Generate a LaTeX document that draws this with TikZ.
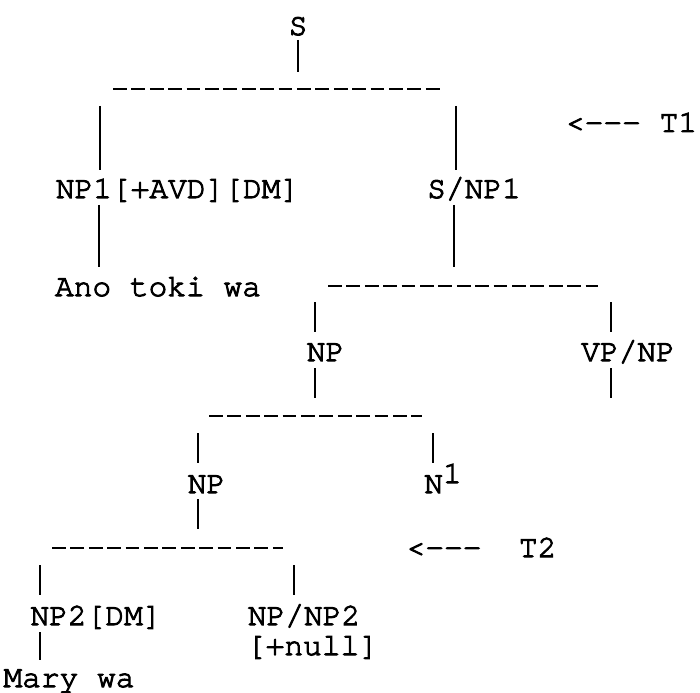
\documentclass[tikz,border=0pt]{standalone}
\usepackage{fontspec}
\newfontfamily\tw{texgyrecursor-regular.otf}[FakeBold=3.2]
\tikzset{
  lbl/.style={font=\tw\fontsize{31.2}{36}\selectfont, inner sep=0pt, anchor=base},
  bar/.style={line width=2.2pt},
  dashrule/.style={line width=2.6pt, dash pattern=on 13.8pt off 4.6pt},
}
\begin{document}
\begin{tikzpicture}[x=1pt,y=-1pt]
\useasboundingbox (0,0) rectangle (700,692);
% labels
\node[lbl] (S) at (298,35) {S};
\node[lbl] (np1) at (177.5,198) {NP1[+AVD][DM]};
\node[lbl] (snp1) at (474,198) {S/NP1};
\node[lbl] (t1) at (631.5,132) {<-{}-{}- T1};
\node[lbl] (ano) at (158,296) {Ano toki wa};
\node[lbl] (npA) at (325.5,361) {NP};
\node[lbl] (vpnp) at (628,361) {VP/NP};
\node[lbl] (npB) at (206.5,493) {NP};
\node[lbl] (n1) at (443,493) {N\raisebox{10pt}{1}};
\node[lbl] (t2) at (481.5,557) {<-{}-{}- \ T2};
\node[lbl] (np2) at (96,625) {NP2[DM]};
\node[lbl] (npnp2) at (304,625) {NP/NP2};
\node[lbl] (null) at (312.5,655) {[+null]};
\node[lbl] (mary) at (69,687) {Mary wa};
% horizontal dashed rules
\coordinate (d1a) at (113,89);  \coordinate (d1b) at (442,89);
\coordinate (d2a) at (328,286); \coordinate (d2b) at (598,286);
\coordinate (d3a) at (209,416); \coordinate (d3b) at (422,416);
\coordinate (d4a) at (52,548);  \coordinate (d4b) at (283,548);
\draw[dashrule] (d1a) -- (d1b);
\draw[dashrule] (d2a) -- (d2b);
\draw[dashrule] (d3a) -- (d3b);
\draw[dashrule] (d4a) -- (d4b);
% vertical bars
\coordinate (vS1) at (298,40);  \coordinate (vS2) at (298,72);
\coordinate (vL1) at (100,106); \coordinate (vL2) at (100,170);
\coordinate (vR1) at (456,106); \coordinate (vR2) at (456,170);
\coordinate (vL3) at (99,205);  \coordinate (vL4) at (99,267);
\coordinate (vR3) at (454,205); \coordinate (vR4) at (454,267);
\coordinate (vA1) at (315,302); \coordinate (vA2) at (315,332);
\coordinate (vB1) at (611,302); \coordinate (vB2) at (611,332);
\coordinate (vA3) at (315,368); \coordinate (vA4) at (315,398);
\coordinate (vB3) at (611,368); \coordinate (vB4) at (611,398);
\coordinate (vC1) at (198,433); \coordinate (vC2) at (198,463);
\coordinate (vD1) at (433,433); \coordinate (vD2) at (433,463);
\coordinate (vC3) at (198,499); \coordinate (vC4) at (198,529);
\coordinate (vE1) at (40,565);  \coordinate (vE2) at (40,595);
\coordinate (vF1) at (294,565); \coordinate (vF2) at (294,595);
\coordinate (vE3) at (40,632);  \coordinate (vE4) at (40,660);
\foreach \a/\b in {vS1/vS2,vL1/vL2,vR1/vR2,vL3/vL4,vR3/vR4,vA1/vA2,vB1/vB2,vA3/vA4,vB3/vB4,vC1/vC2,vD1/vD2,vC3/vC4,vE1/vE2,vF1/vF2,vE3/vE4}
  \draw[bar] (\a) -- (\b);
\end{tikzpicture}
\end{document}
